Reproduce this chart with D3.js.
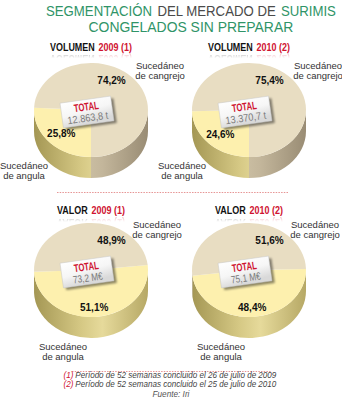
<!DOCTYPE html>
<html>
<head>
<meta charset="utf-8">
<script src="https://cdn.jsdelivr.net/npm/d3@7"></script>
<style>
  body { margin: 0; background: #fff; }
  svg { display: block; }
</style>
</head>
<body>
<div id="chart"></div>
<script>
// ---- data ----
const measures = ["VOLUMEN", "VOLUMEN", "VALOR", "VALOR"];
const periods = ["2009 (1)", "2010 (2)", "2009 (1)", "2010 (2)"];
const categories = ["Sucedáneo de angula", "Sucedáneo de cangrejo"];
const angula = [25.8, 24.6, 51.1, 48.4];
const cangrejo = [74.2, 75.4, 48.9, 51.6];
const totals = ["12.863,8 t", "13.370,7 t", "73,2 M€", "75,1 M€"];
const titleLine1 = [["SEGMENTACIÓN", "g"], ["DEL MERCADO DE", "k"], ["SURIMIS", "g"]];
const titleLine2 = [["CONGELADOS SIN PREPARAR", "g"]];
const footnotes = [
  ["(1)", "Período de 52 semanas concluido el 26 de julio de 2009"],
  ["(2)", "Período de 52 semanas concluido el 25 de julio de 2010"]
];
const source = "Fuente: Iri";

// ---- layout ----
const width = 342, height = 405;
const rx = 57, ry = 47, depth = 21;
const colX = [91, 249], rowY = [110, 270];
const green = "#2f9467", red = "#cf1330", ink = "#333";
const fmt = (v) => d3.format(".1f")(v).replace(".", ",") + "%";

const svg = d3.select("#chart").append("svg")
  .attr("width", width).attr("height", height);
const defs = svg.append("defs");

// one text per coloured piece, laid side by side (a word space between them),
// then the group is squeezed horizontally to w pixels and centred on tr
function segText(parent, tr, segs, colour, font, w) {
  const g = parent.append("g");
  const inner = g.append("g");
  let x = 0;
  segs.forEach((s, k) => {
    const t = inner.append("text").attr("x", x).attr("fill", colour(s))
      .call(font).text(s[0]);
    x += t.node().getComputedTextLength();
    if (k < segs.length - 1) x += t.node().getComputedTextLength() / s[0].length * 0.6;
  });
  inner.attr("transform", `translate(${-x / 2},0)`);
  g.attr("transform", `${tr} scale(${w / x},1)`);
  return g;
}

// fade for the reflected headers
const fade = defs.append("linearGradient").attr("id", "fade")
  .attr("x1", 0).attr("y1", 0).attr("x2", 0).attr("y2", 1);
fade.append("stop").attr("offset", 0).attr("stop-color", "#fff").attr("stop-opacity", 0.3);
fade.append("stop").attr("offset", 0.8).attr("stop-color", "#fff").attr("stop-opacity", 0);

const boxGrad = defs.append("linearGradient").attr("id", "boxGrad")
  .attr("x1", 0).attr("y1", 0).attr("x2", 0.3).attr("y2", 1);
boxGrad.append("stop").attr("offset", 0).attr("stop-color", "#ffffff");
boxGrad.append("stop").attr("offset", 0.55).attr("stop-color", "#f6f6f6");
boxGrad.append("stop").attr("offset", 1).attr("stop-color", "#d9d9d9");

const blur = defs.append("filter").attr("id", "shadow")
  .attr("x", -0.3).attr("y", -0.3).attr("width", 1.6).attr("height", 1.6);
blur.append("feGaussianBlur").attr("stdDeviation", 1.3);

// ---- title ----
const titleFont = (s) => s.attr("font-family", "'Liberation Sans', Arial, sans-serif").attr("font-size", 14);
const titleColour = (s) => (s[1] === "g" ? green : "#4a4a4a");
segText(svg, "translate(191,15.8)", titleLine1, titleColour, titleFont, 290);
segText(svg, "translate(191,31.6)", titleLine2, titleColour, titleFont, 205);

// ---- separators ----
svg.append("line").attr("x1", 57).attr("x2", 289).attr("y1", 192.5).attr("y2", 192.5)
  .attr("stroke", "#e07a7a").attr("stroke-width", 0.8).attr("stroke-dasharray", "1.5,1.2");
svg.append("line").attr("x1", 72).attr("x2", 271).attr("y1", 371.5).attr("y2", 371.5)
  .attr("stroke", "#e07a7a").attr("stroke-width", 0.8).attr("stroke-dasharray", "1.5,1.2");

// ---- pies ----
const slicePalette = {
  top: ["#fdf0ae", "#e8ddc2"],
  side: [
    ["#a49754", "#d6c985", "#e6da9b", "#b6a865"],
    ["#a2957b", "#cdc1a5", "#c3b69b", "#998c74"]
  ]
};
const labelOffsets = {
  VOLUMEN: { cangrejo: [69, -45], angula: [-67, 55] },
  VALOR: { cangrejo: [66, -46], angula: [-28, 76] }
};

const arc = d3.arc().innerRadius(0).outerRadius(rx);
const pt = (cx, cy, a, dy) => [cx + rx * Math.sin(a), cy - ry * Math.cos(a) + (dy || 0)];

function sidePath(cx, cy, a0, a1) {
  const [x0, y0] = pt(cx, cy, a0);
  const [x1, y1] = pt(cx, cy, a1);
  return `M${x0},${y0}A${rx},${ry} 0 0 1 ${x1},${y1}` +
    `L${x1},${y1 + depth}A${rx},${ry} 0 0 0 ${x0},${y0 + depth}Z`;
}

const headerFont = (s) => s.attr("font-family", "'Liberation Sans', Arial, sans-serif")
  .attr("font-weight", "bold").attr("font-size", 10.5);
const headerColour = (s) => (s[1] === "r" ? red : "#111");

measures.forEach((m, i) => {
  const cx = colX[i % 2], cy = rowY[Math.floor(i / 2)];
  const values = [angula[i], cangrejo[i]];
  const span = (2 * Math.PI * angula[i]) / 100;
  const start = m === "VOLUMEN" ? Math.PI : (176 * Math.PI) / 180 - span / 2;
  const arcs = d3.pie().sort(null).startAngle(start).endAngle(start + 2 * Math.PI)(values);
  const g = svg.append("g");

  // side gradients
  slicePalette.side.forEach((stops, k) => {
    const lg = defs.append("linearGradient").attr("id", `side${i}_${k}`)
      .attr("gradientUnits", "userSpaceOnUse")
      .attr("x1", cx - rx).attr("x2", cx + rx).attr("y1", 0).attr("y2", 0);
    [0, 0.42, 0.6, 1].forEach((o, j) =>
      lg.append("stop").attr("offset", o).attr("stop-color", stops[j]));
  });

  // visible side: angles between PI/2 and 3PI/2 (front half)
  arcs.forEach((d, k) => {
    [0, 2 * Math.PI].forEach((off) => {
      const a0 = Math.max(d.startAngle, Math.PI / 2 + off);
      const a1 = Math.min(d.endAngle, (3 * Math.PI) / 2 + off);
      if (a1 > a0) {
        g.append("path").attr("d", sidePath(cx, cy, a0, a1))
          .attr("fill", `url(#side${i}_${k})`);
      }
    });
  });

  // top face
  g.append("g").attr("transform", `translate(${cx},${cy}) scale(1,${ry / rx})`)
    .selectAll("path").data(arcs).join("path")
    .attr("d", arc)
    .attr("fill", (d, k) => slicePalette.top[k]);

  // percentage labels
  const beigeAngle = (30 * Math.PI) / 180;
  const pos = [
    pt(cx, cy, (arcs[0].startAngle + arcs[0].endAngle) / 2),
    pt(cx, cy, beigeAngle)
  ];
  const kk = [m === "VOLUMEN" ? 0.72 : 0.8, 0.72];
  g.selectAll("text.pct").data(values).join("text").attr("class", "pct")
    .attr("x", (d, k) => cx + (pos[k][0] - cx) * kk[k])
    .attr("y", (d, k) => cy + (pos[k][1] - cy) * kk[k] + 3.5)
    .attr("text-anchor", "middle")
    .attr("font-family", "'Liberation Sans', Arial, sans-serif")
    .attr("font-weight", "bold").attr("font-size", 10).attr("fill", "#111")
    .text((d) => fmt(d));

  // TOTAL card
  const card = g.append("g").attr("transform", `translate(${cx - 4},${cy + 2}) rotate(-8)`);
  card.append("rect").attr("x", -23).attr("y", -10).attr("width", 51).attr("height", 25)
    .attr("fill", "rgba(0,0,0,0.45)").attr("filter", "url(#shadow)");
  card.append("rect").attr("x", -25.5).attr("y", -12.5).attr("width", 51).attr("height", 25)
    .attr("fill", "url(#boxGrad)").attr("stroke", "#c8c8c8").attr("stroke-width", 0.5);
  segText(card, "translate(0,-1.5)", [["TOTAL"]], () => red,
    (s) => s.attr("font-family", "'Liberation Sans', sans-serif")
      .attr("font-weight", "bold").attr("font-size", 11), 25);
  segText(card, "translate(0,9.5)", [[totals[i]]], () => "#7b7b7b",
    (s) => s.attr("font-family", "'Liberation Sans', sans-serif").attr("font-size", 10.5),
    m === "VOLUMEN" ? 41 : 30);

  // category labels
  const off = labelOffsets[m];
  [["cangrejo", categories[1]], ["angula", categories[0]]].forEach(([key, name]) => {
    const [dx, dy] = off[key];
    const words = name.split(" ");
    const lines = [words[0], words.slice(1).join(" ")];
    g.append("text").attr("text-anchor", "middle")
      .attr("font-family", "'Liberation Sans', Arial, sans-serif")
      .attr("font-size", 9.5).attr("fill", ink)
      .selectAll("tspan").data(lines).join("tspan")
      .attr("x", cx + dx).attr("y", (d, j) => cy + dy + 3.5 + j * 10)
      .text((d) => d);
  });

  // header with faint reflection underneath
  const hy = m === "VOLUMEN" ? 50.5 : 214;
  const hw = m === "VOLUMEN" ? 82 : 68;
  const segs = [[m, "k"], [periods[i], "r"]];
  segText(svg, `translate(${cx},${hy})`, segs, headerColour, headerFont, hw);
  const mask = defs.append("mask").attr("id", `refl${i}`);
  mask.append("rect").attr("x", cx - 50).attr("y", hy + 2.3).attr("width", 100).attr("height", 7)
    .attr("fill", "url(#fade)");
  segText(svg.append("g").attr("mask", `url(#refl${i})`),
    `translate(${cx},${hy + 4.6}) scale(1,-1)`, segs, headerColour, headerFont, hw);
});

// ---- footnotes ----
const footFont = (s) => s.attr("font-family", "'Liberation Sans', Arial, sans-serif")
  .attr("font-style", "italic").attr("font-size", 8.2);
footnotes.forEach((f, j) => {
  segText(svg, `translate(170,${378 + j * 8.7})`, [[f[0], "r"], [f[1], "k"]],
    (s) => (s[1] === "r" ? red : "#444"), footFont, 213);
});
svg.append("text").attr("x", 171).attr("y", 397).attr("text-anchor", "middle")
  .call(footFont).attr("fill", "#555").text(source);
</script>
</body>
</html>
